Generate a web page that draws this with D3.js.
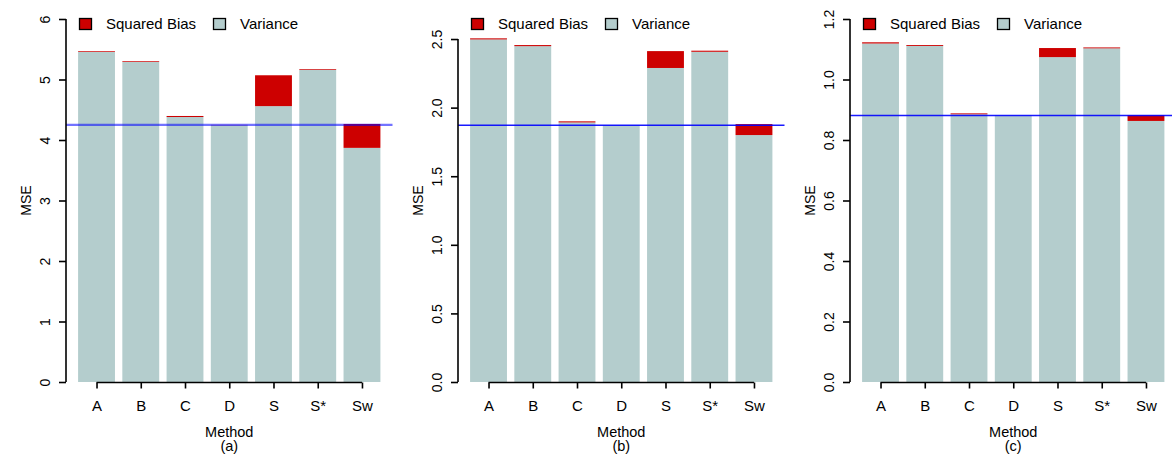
<!DOCTYPE html>
<meta charset="utf-8">
<style type="text/css">
body { margin: 0; background: #fff; }
svg { display: block; font-family: "Liberation Sans", Arial, sans-serif; }
</style>
<svg id="chart" width="1172" height="455"></svg>

<script src="https://cdn.jsdelivr.net/npm/d3@7"></script>
<script>

// values
var methods = ["A", "B", "C", "D", "S", "S*", "Sw"];

var varianceA = [5.455, 5.290, 4.380, 4.245, 4.560, 5.160, 3.870];
var biasA     = [0.012, 0.012, 0.017, 0.005, 0.510, 0.012, 0.395];
var refA = 4.25;
var ticksA = [0, 1, 2, 3, 4, 5, 6];

var varianceB = [2.497, 2.448, 1.892, 1.873, 2.289, 2.407, 1.800];
var biasB     = [0.008, 0.008, 0.008, 0.000, 0.123, 0.008, 0.080];
var refB = 1.872;
var ticksB = [0, 0.5, 1, 1.5, 2, 2.5];

var varianceC = [1.119, 1.111, 0.885, 0.882, 1.074, 1.103, 0.863];
var biasC     = [0.004, 0.003, 0.003, 0.000, 0.030, 0.003, 0.019];
var refC = 0.881;
var ticksC = [0, 0.2, 0.4, 0.6, 0.8, 1.0, 1.2];

var panels = [
  {left: 66,  ymax: 6,     variance: varianceA, bias: biasA, ref: refA, ticks: ticksA, fmt: d3.format("d"),   tag: "(a)", lineOpacity: 0.55, lineWidth: 2.2},
  {left: 458, ymax: 2.646, variance: varianceB, bias: biasB, ref: refB, ticks: ticksB, fmt: d3.format(".1f"), tag: "(b)", lineOpacity: 0.9,  lineWidth: 1.4},
  {left: 850, ymax: 1.2,   variance: varianceC, bias: biasC, ref: refC, ticks: ticksC, fmt: d3.format(".1f"), tag: "(c)", lineOpacity: 0.9,  lineWidth: 1.4}
];

var varColor = "#B4CDCD",  // lightcyan3
    biasColor = "#CD0000"; // red3

var plotTop = 19, plotBottom = 382, plotWidth = 326.5;

var svg = d3.select("#chart");
panels.forEach(drawPanel);

function drawPanel(p){
  // barplot style units: bar i spans [0.2 + 1.2i, 1.2 + 1.2i]
  var x = d3.scaleLinear()
      .domain([-0.128, 8.728])
      .range([p.left, p.left + plotWidth]);
  var y = d3.scaleLinear()
      .domain([0, p.ymax])
      .range([plotBottom, plotTop]);

  var g = svg.append("g");

  var rows = methods.map(function(m, i){
    return {name: m, i: i, v: p.variance[i], b: p.bias[i]};
  });

  g.selectAll(".var").data(rows).enter().append("rect")
      .attr("x", function(d){ return x(0.2 + 1.2 * d.i); })
      .attr("width", function(d){ return x(1.2 + 1.2 * d.i) - x(0.2 + 1.2 * d.i); })
      .attr("y", function(d){ return y(d.v); })
      .attr("height", function(d){ return y(0) - y(d.v); })
      .style("fill", varColor);

  g.selectAll(".bias").data(rows).enter().append("rect")
      .attr("x", function(d){ return x(0.2 + 1.2 * d.i); })
      .attr("width", function(d){ return x(1.2 + 1.2 * d.i) - x(0.2 + 1.2 * d.i); })
      .attr("y", function(d){ return y(d.v + d.b); })
      .attr("height", function(d){ return y(d.v) - y(d.v + d.b); })
      .style("fill", biasColor);

  // reference line across the plot region
  g.append("line")
      .attr("x1", x.range()[0]).attr("x2", Math.min(x.range()[1], 1172))
      .attr("y1", y(p.ref)).attr("y2", y(p.ref))
      .style("stroke", "#0000ff")
      .style("stroke-opacity", p.lineOpacity)
      .style("stroke-width", p.lineWidth);

  // y axis
  var yAxis = d3.axisLeft(y).tickValues(p.ticks).tickSize(7).tickFormat(p.fmt);
  var ya = g.append("g")
      .attr("transform", "translate(" + p.left + ",0)")
      .call(yAxis);
  ya.select(".domain").remove();
  ya.append("line")
      .attr("y1", y(p.ticks[0])).attr("y2", y(p.ticks[p.ticks.length - 1]))
      .style("stroke", "#000");
  ya.selectAll("line").style("stroke-width", 1.6);
  ya.selectAll("text")
      .attr("transform", "rotate(-90)")
      .attr("x", 0).attr("y", -16).attr("dy", null)
      .attr("text-anchor", "middle")
      .style("font-size", "14px")
      .style("fill", "#000");

  // x axis
  var centers = methods.map(function(m, i){ return 0.7 + 1.2 * i; });
  var xAxis = d3.axisBottom(x).tickValues(centers).tickSize(6)
      .tickFormat(function(d, i){ return methods[i]; });
  var xa = g.append("g")
      .attr("transform", "translate(0," + (plotBottom + 0.5) + ")")
      .call(xAxis);
  xa.select(".domain").remove();
  xa.append("line")
      .attr("x1", x(centers[0])).attr("x2", x(centers[centers.length - 1]))
      .style("stroke", "#000");
  xa.selectAll("line").style("stroke-width", 1.6);
  xa.selectAll("text")
      .attr("y", 28).attr("dy", null)
      .style("font-size", "15px")
      .style("fill", "#000");

  var cx = p.left + plotWidth / 2;
  g.append("text")
      .attr("x", cx).attr("y", 437)
      .attr("text-anchor", "middle")
      .style("font-size", "14.5px")
      .text("Method");
  g.append("text")
      .attr("x", cx).attr("y", 451)
      .attr("text-anchor", "middle")
      .style("font-size", "14.5px")
      .text(p.tag);

  g.append("text")
      .attr("transform", "translate(" + (p.left - 35) + "," + ((plotTop + plotBottom) / 2) + ") rotate(-90)")
      .attr("text-anchor", "middle")
      .style("font-size", "14px")
      .text("MSE");

  // legend
  var legend = [{label: "Squared Bias", color: biasColor, dx: 13}, {label: "Variance", color: varColor, dx: 147}];
  var lg = g.selectAll(".leg").data(legend).enter().append("g")
      .attr("transform", function(d){ return "translate(" + (p.left + d.dx) + ",18)"; });
  lg.append("rect")
      .attr("x", 0.5).attr("y", 0.5)
      .attr("width", 12).attr("height", 11)
      .style("fill", function(d){ return d.color; })
      .style("stroke", "#000")
      .style("stroke-width", 1.3);
  lg.append("text")
      .attr("x", 27).attr("y", 10.5)
      .style("font-size", "15px")
      .text(function(d){ return d.label; });
}

</script>
